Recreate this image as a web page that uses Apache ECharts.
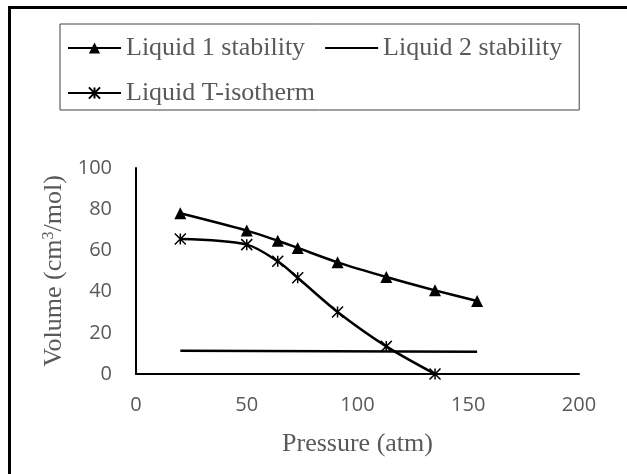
<!DOCTYPE html>
<html>
<head>
<meta charset="utf-8">
<script src="https://cdn.jsdelivr.net/npm/echarts@6/dist/echarts.min.js"></script>
<style>
  html, body { margin: 0; padding: 0; background: #fff; }
  #chart { width: 627px; height: 474px; }
</style>
</head>
<body>
<div id="chart"></div>
<script>
// pressure values (atm)
const pressure = [20, 50, 64, 73, 91, 113, 135, 154];
// volume (cm3/mol)
const liquid1 = [78, 69.6, 64.7, 61.2, 54.2, 47.1, 40.6, 35.4];
const isotherm = [65.5, 62.8, 54.7, 46.7, 30.1, 13.4, 0];
const liquid2X = [20, 154];
const liquid2 = [11.3, 10.8];
const xTicks = [0, 50, 100, 150, 200];
const yTicks = [0, 20, 40, 60, 80, 100];

const pairs = (xs, ys) => ys.map((y, i) => [xs[i], y]);

const serif = '"Liberation Serif", "Times New Roman", serif';
const sans = '"Open Sans", sans-serif';
const star = 'path://M0 0 L10 10 M10 0 L0 10 M5 0 L5 10';

const chart = echarts.init(document.getElementById('chart'));

chart.setOption({
    animation: false,
    graphic: [{
        type: 'rect',
        shape: {x: 9.5, y: 7.5, width: 1000, height: 1000},
        style: {fill: 'none', stroke: '#000', lineWidth: 3},
        silent: true
    }],
    grid: {left: 136, right: 48, top: 168, bottom: 100},
    legend: {
        left: 60,
        top: 24,
        width: 505,
        padding: [11, 17, 4, 7],
        borderColor: '#404040',
        borderWidth: 1,
        itemWidth: 53,
        itemHeight: 14,
        itemGap: 19,
        textStyle: {fontFamily: serif, fontSize: 26, color: '#595959', lineHeight: 21},
        data: [
            'Liquid 1 stability',
            {name: 'Liquid 2 stability', itemStyle: {opacity: 0}},
            'Liquid T-isotherm'
        ]
    },
    xAxis: {
        type: 'value',
        min: xTicks[0],
        max: xTicks[xTicks.length - 1],
        interval: 50,
        name: 'Pressure (atm)',
        nameLocation: 'middle',
        nameGap: 57,
        nameTextStyle: {fontFamily: serif, fontSize: 26, color: '#595959'},
        axisLine: {lineStyle: {color: '#000', width: 2}},
        axisTick: {show: false},
        splitLine: {show: false},
        axisLabel: {fontFamily: sans, fontSize: 20, color: '#595959', margin: 21}
    },
    yAxis: {
        type: 'value',
        min: yTicks[0],
        max: yTicks[yTicks.length - 1],
        interval: 20,
        name: 'Volume (cm{sup|3}/mol)',
        nameLocation: 'middle',
        nameGap: 68,
        nameTextStyle: {
            fontFamily: serif, fontSize: 26, color: '#595959',
            rich: {sup: {fontFamily: serif, fontSize: 16, color: '#595959', verticalAlign: 'top', padding: [0, 0, 10, 0]}}
        },
        axisLine: {show: true, lineStyle: {color: '#000', width: 2}},
        axisTick: {show: false},
        splitLine: {show: false},
        axisLabel: {fontFamily: sans, fontSize: 20, color: '#595959', margin: 24}
    },
    series: [
        {
            name: 'Liquid 1 stability',
            type: 'line',
            data: pairs(pressure, liquid1),
            smooth: 0.3,
            symbol: 'triangle',
            symbolSize: 12,
            lineStyle: {color: '#000', width: 2.5},
            itemStyle: {color: '#000'}
        },
        {
            name: 'Liquid 2 stability',
            type: 'line',
            data: pairs(liquid2X, liquid2),
            symbol: 'none',
            lineStyle: {color: '#000', width: 2.5},
            itemStyle: {color: '#000'}
        },
        {
            name: 'Liquid T-isotherm',
            type: 'line',
            data: pairs(pressure, isotherm),
            smooth: 0.3,
            symbol: star,
            symbolSize: 11,
            lineStyle: {color: '#000', width: 2.5},
            itemStyle: {color: '#000', borderColor: '#000', borderWidth: 1.5}
        }
    ]
});
</script>
</body>
</html>
